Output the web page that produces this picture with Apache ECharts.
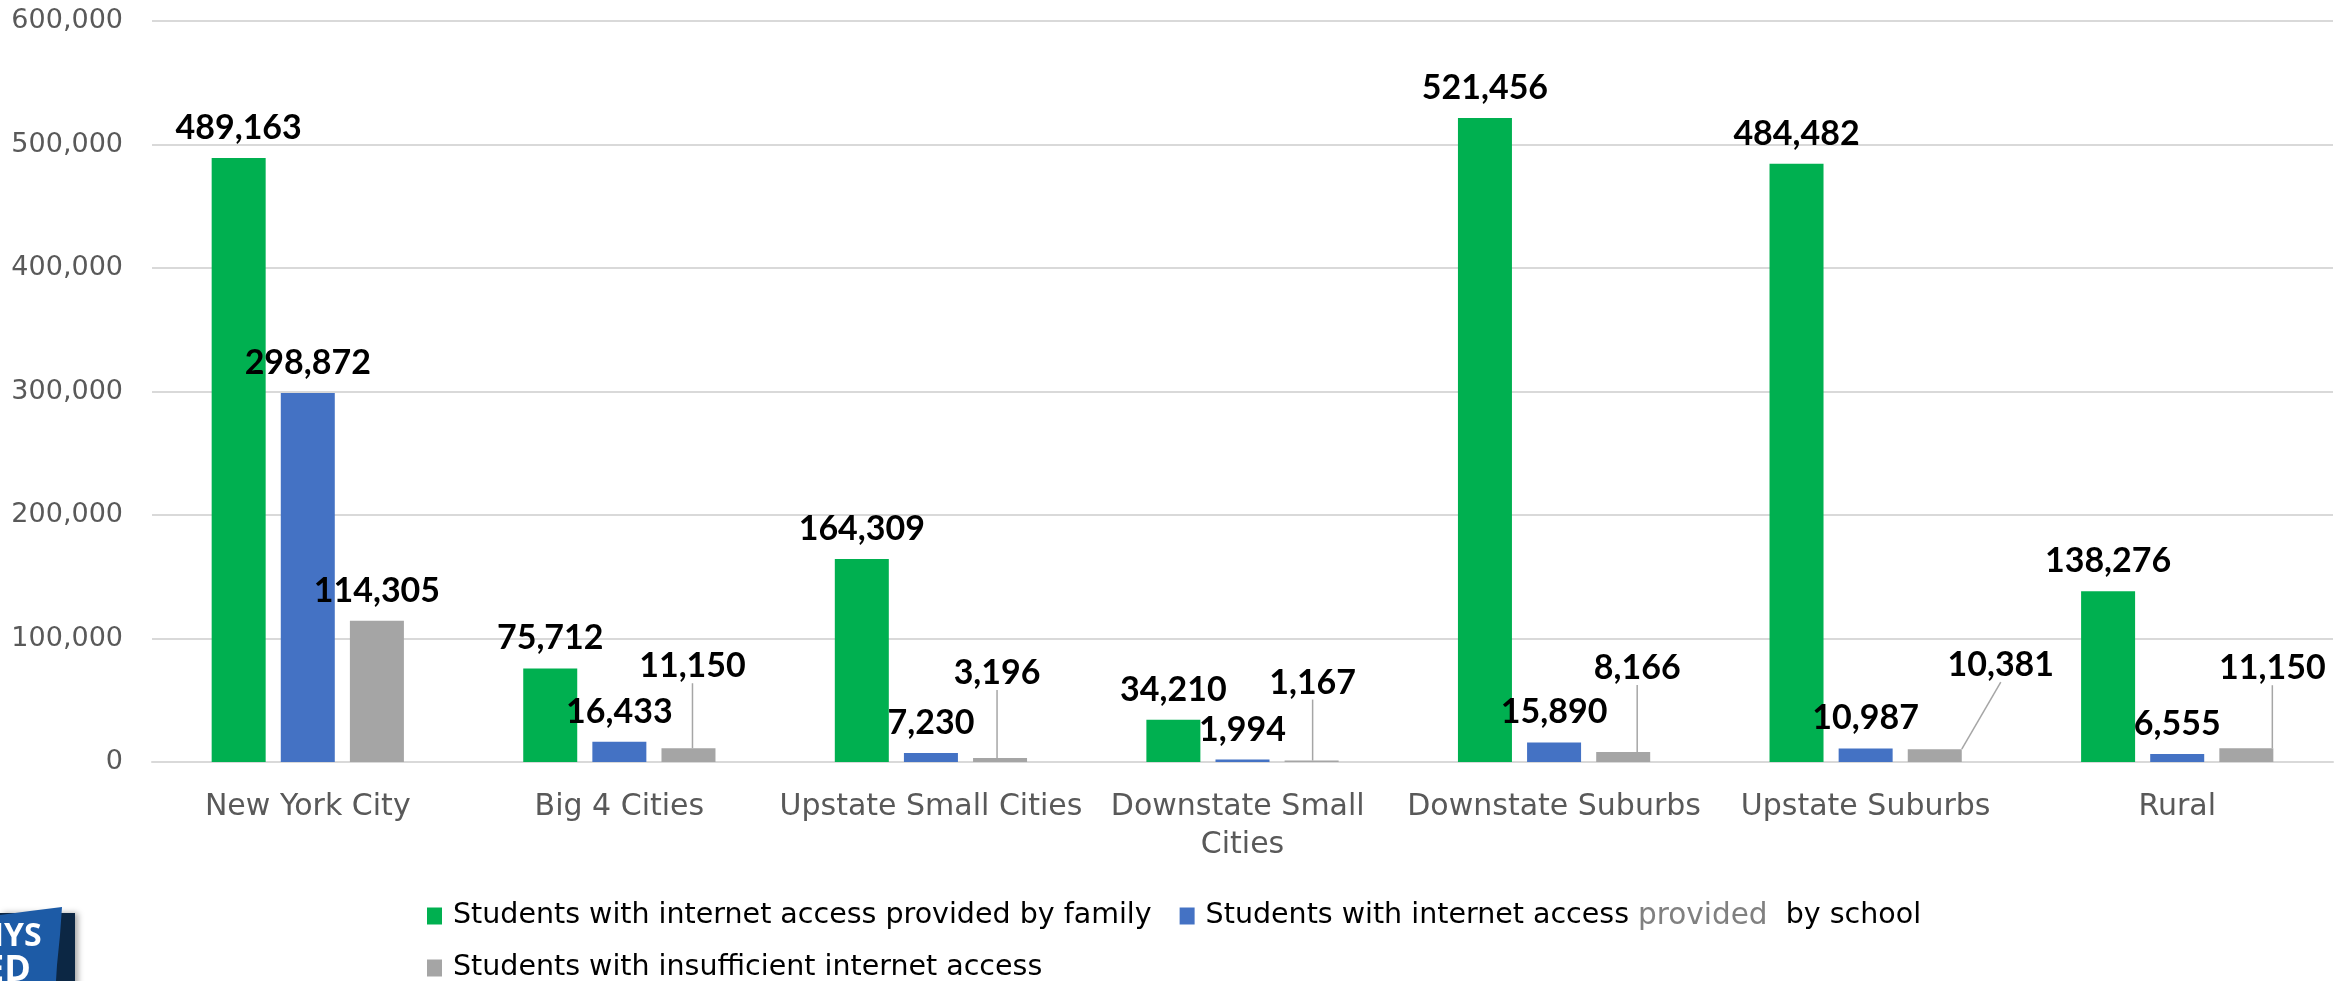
<!DOCTYPE html>
<html>
<head>
<meta charset="utf-8">
<title>Student internet access by region</title>
<script src="https://cdn.jsdelivr.net/npm/echarts@6/dist/echarts.min.js"></script>
<style>
  html, body { margin: 0; padding: 0; background: #ffffff; }
  #chart { width: 2344px; height: 981px; }
</style>
</head>
<body>
<div id="chart"></div>
<script>
// Regions and student counts per access type
const categories = [
  'New York City', 'Big 4 Cities', 'Upstate Small Cities', 'Downstate Small Cities',
  'Downstate Suburbs', 'Upstate Suburbs', 'Rural'
];
const seriesNames = [
  'Students with internet access provided by family',
  'Students with internet access provided by school',
  'Students with insufficient internet access'
];
const familyAccess = [489163, 75712, 164309, 34210, 521456, 484482, 138276];
const schoolAccess = [298872, 16433, 7230, 1994, 15890, 10987, 6555];
const insufficientAccess = [114305, 11150, 3196, 1167, 8166, 10381, 11150];
const yTickValues = [0, 100000, 200000, 300000, 400000, 500000, 600000];

// Small grey bars have their value labels lifted clear, with a leader line back to the bar
const insufficientLabelShift = [[0, 0], [4, -52], [-3, -55], [1, -48], [14, -54], [66, -54], [26, -50]];

const colors = ['#00b050', '#4472c4', '#a5a5a5'];
const fmt = v => Number(v).toLocaleString('en-US');
const bodyFont = '"DejaVu Sans"';

const valueLabel = {
  show: true,
  position: 'top',
  distance: 13,
  fontFamily: 'Lato',
  fontWeight: 'bold',
  fontSize: 34,
  color: '#000000',
  formatter: p => fmt(p.value)
};

function barSeries(idx, values, extra) {
  return Object.assign({
    name: seriesNames[idx],
    type: 'bar',
    barWidth: 54,
    barGap: '28%',
    itemStyle: { color: colors[idx] },
    label: valueLabel,
    data: values
  }, extra || {});
}

const chart = echarts.init(document.getElementById('chart'), null, { renderer: 'canvas' });

chart.setOption({
  animation: false,
  backgroundColor: '#ffffff',
  grid: { left: 152, right: 11, top: 21, bottom: 219, containLabel: false },
  legend: {
    left: 422,
    top: 895,
    width: 1620,
    itemWidth: 15,
    itemHeight: 17,
    itemGap: 20,
    icon: 'rect',
    data: seriesNames,
    textStyle: {
      fontFamily: bodyFont,
      fontSize: 28.5,
      color: '#000000',
      lineHeight: 32,
      padding: [0, 8, 0, 6],
      rich: {
        g: { fontFamily: bodyFont, fontSize: 29.5, color: '#808080', lineHeight: 32 }
      }
    },
    formatter: name => name.replace('provided by school', '{g|provided}  by school')
  },
  xAxis: {
    type: 'category',
    data: categories,
    axisLine: { show: true, lineStyle: { color: '#d9d9d9', width: 2 } },
    axisTick: { show: false },
    axisLabel: {
      interval: 0,
      margin: 26,
      fontFamily: bodyFont,
      fontSize: 30,
      color: '#595959',
      lineHeight: 38,
      width: 322,
      overflow: 'break'
    }
  },
  yAxis: {
    type: 'value',
    min: yTickValues[0],
    max: yTickValues[yTickValues.length - 1],
    interval: yTickValues[1] - yTickValues[0],
    axisLine: { show: false },
    axisTick: { show: false },
    splitLine: { lineStyle: { color: '#d9d9d9', width: 2 } },
    axisLabel: {
      margin: 29,
      fontFamily: bodyFont,
      fontSize: 27,
      color: '#595959',
      formatter: v => fmt(v)
    }
  },
  series: [
    barSeries(0, familyAccess),
    barSeries(1, schoolAccess),
    barSeries(2, insufficientAccess.map((v, i) => ({
      value: v,
      labelLine: { show: i > 0 }
    })), {
      labelLine: { show: false, lineStyle: { color: '#a6a6a6', width: 1.5 } },
      labelLayout: p => {
        const s = insufficientLabelShift[p.dataIndex];
        return { dx: s[0], dy: s[1] };
      }
    })
  ],
  graphic: [
    {
      type: 'group',
      x: 0,
      y: 905,
      children: [
        {
          type: 'rect',
          shape: { x: 0, y: 8, width: 75, height: 76 },
          style: { fill: '#0c2744', shadowBlur: 6, shadowColor: 'rgba(0,0,0,0.35)', shadowOffsetX: 3 }
        },
        {
          type: 'polygon',
          shape: { points: [[0, 10], [30, 6], [62, 2], [60, 30], [57, 60], [56, 76], [0, 76]] },
          style: { fill: '#1d5ba6' }
        },
        {
          type: 'text',
          x: -22, y: 16,
          style: { text: 'NYS', fill: '#ffffff', font: 'bold 32px "Open Sans"' }
        },
        {
          type: 'text',
          x: -16, y: 48,
          style: { text: 'ED', fill: '#ffffff', font: 'bold 36px "Open Sans"' }
        }
      ]
    }
  ]
});
</script>
</body>
</html>
